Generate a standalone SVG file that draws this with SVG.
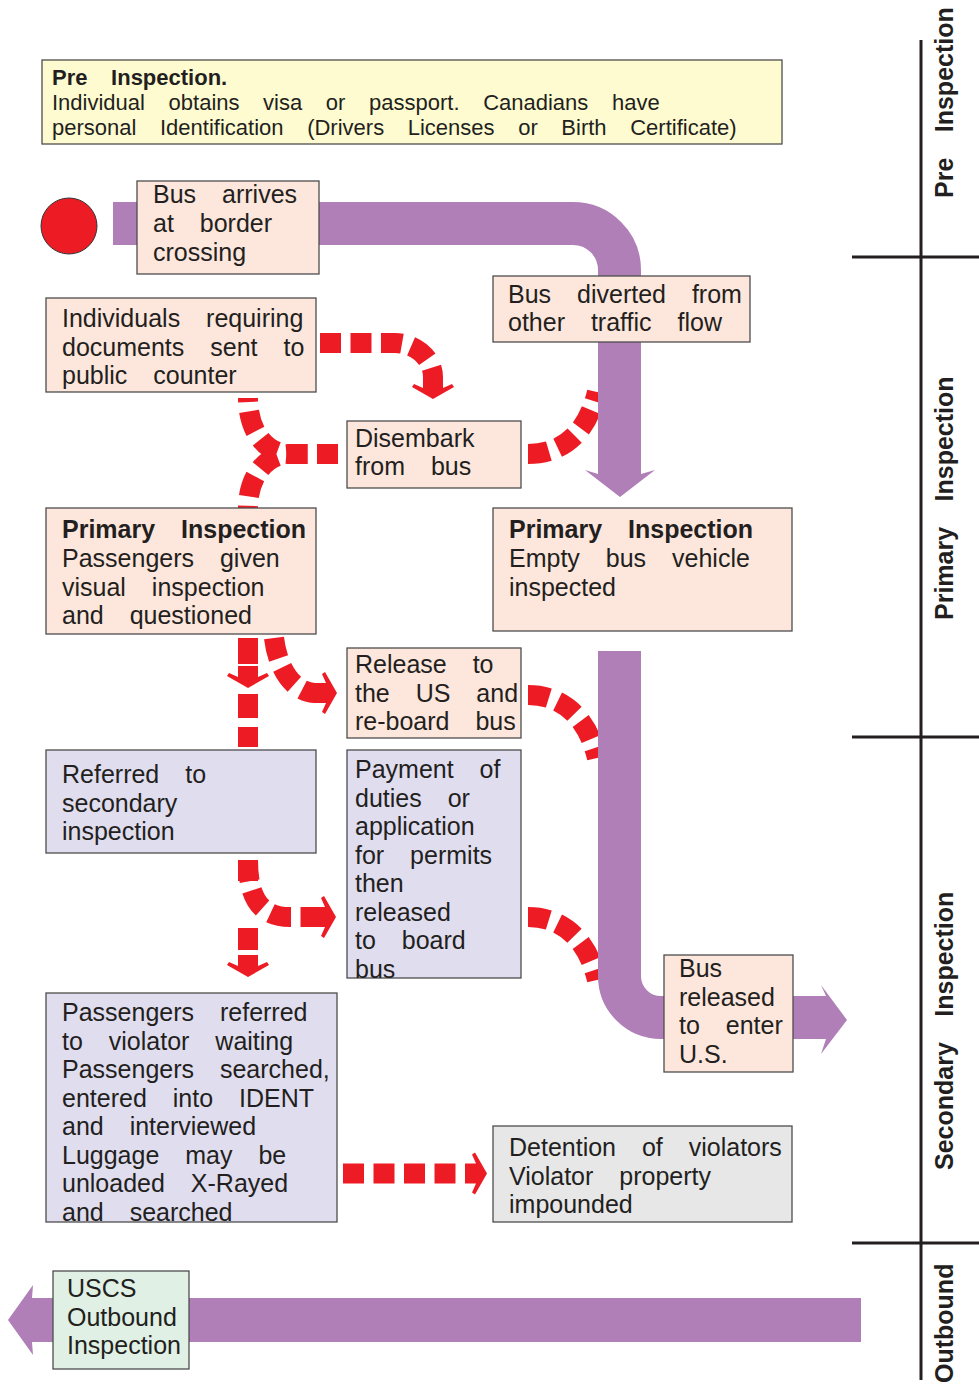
<svg xmlns="http://www.w3.org/2000/svg" xmlns:xlink="http://www.w3.org/1999/xlink" width="979" height="1385" viewBox="0 0 979 1385">
<style>
.box{stroke:#4d4d4d;stroke-width:1.3}
.peach{fill:#fde6dc}
.lav{fill:#e0ddef}
.gray{fill:#e7e7e8}
.green{fill:#e0f0e5}
.yellow{fill:#fefbd0}
.t{font-family:"Liberation Sans",Arial,sans-serif;font-size:25px;fill:#231f20;word-spacing:19px}
.b{font-weight:bold}
.top{font-family:"Liberation Sans",Arial,sans-serif;font-size:22px;fill:#231f20;word-spacing:17.5px}
.side{font-family:"Liberation Sans",Arial,sans-serif;font-size:25px;font-weight:bold;fill:#231f20;word-spacing:18.5px}
.red{fill:none;stroke:#ed1c24;stroke-width:20;stroke-dasharray:21 9.5}
.pur{fill:none;stroke:#b07fb8;stroke-width:43}
.purf{fill:#b07fb8}
</style>
<defs>
<path id="ah" d="M0,0 L-12,-21 L-15,-19 L-11,-10 L-22,-10 L-22,10 L-11,10 L-15,19 L-12,21 Z" fill="#ed1c24"/>
</defs>

<g id="lanes">
<path d="M921,40 V1380 M852,257 H979 M852,737 H979 M852,1243 H979" stroke="#231f20" stroke-width="3" fill="none"/>
<text class="side" transform="translate(953,198) rotate(-90)">Pre Inspection</text>
<text class="side" transform="translate(953,620) rotate(-90)">Primary Inspection</text>
<text class="side" transform="translate(953,1170) rotate(-90)">Secondary Inspection</text>
<text class="side" transform="translate(953,1383) rotate(-90)">Outbound</text>
</g>

<g id="connectors">
<path class="red" d="M320,343 L395,343 C415,343 433,358 433,377"/>
<use xlink:href="#ah" href="#ah" transform="translate(433,399) rotate(90)"/>
<path class="red" d="M338,454 L290,454 C265,454 248,430 248,398"/>
<path class="red" d="M338,454 L290,454 C265,454 248,478 248,508"/>
<path class="red" d="M528,454 C565,454 588,430 597,392"/>
<path class="red" d="M248,638 L248,747" style="stroke-dasharray:26 30 24 9 20 60"/>
<use xlink:href="#ah" href="#ah" transform="translate(248,688) rotate(90)"/>
<path class="red" d="M274,638 C278,672 296,693 315,693"/>
<use xlink:href="#ah" href="#ah" transform="translate(337,693)"/>
<path class="red" d="M528,695 C565,695 588,720 597,758"/>
<path class="red" d="M248,860 L248,955" style="stroke-dasharray:21 47 22 100"/>
<use xlink:href="#ah" href="#ah" transform="translate(248,977) rotate(90)"/>
<path class="red" d="M248,860 C248,900 262,917 290,917 L314,917"/>
<use xlink:href="#ah" href="#ah" transform="translate(336,917)"/>
<path class="red" d="M528,917 C565,917 588,942 597,980"/>
<path class="red" d="M343,1173.5 L465,1173.5"/>
<use xlink:href="#ah" href="#ah" transform="translate(487,1173.5)"/>

<path class="pur" d="M113,223.5 L573,223.5 A46.5,46.5 0 0 1 619.5,270 L619.5,476"/>
<polygon class="purf" points="598,474 585,470 620,497 655,470 641,474"/>
<path class="pur" d="M619.5,651 L619.5,976 A41.5,41.5 0 0 0 661,1017.5 L826,1017.5"/>
<polygon class="purf" points="826,996 821,985 847,1020 821,1054 826,1039"/>
<polygon class="purf" points="861,1298 32,1298 33,1285 8,1320 33,1355 32,1342 861,1342"/>
</g>

<g id="pre-inspection">
<rect class="box yellow" x="42" y="60" width="740" height="84"/>
<text class="top"><tspan class="b" x="52" y="85">Pre Inspection.</tspan><tspan x="52" y="110">Individual obtains visa or passport. Canadians have</tspan><tspan x="52" y="135">personal Identification (Drivers Licenses or Birth Certificate)</tspan></text>
</g>

<g id="start">
<circle cx="69" cy="226" r="28" fill="#ed1c24" stroke="#333" stroke-width="1"/>
</g>

<g id="bus-arrives">
<rect class="box peach" x="137" y="181" width="182" height="93"/>
<text class="t"><tspan x="153" y="203">Bus arrives</tspan><tspan x="153" y="232">at border</tspan><tspan x="153" y="260.5">crossing</tspan></text>
</g>

<g id="bus-diverted">
<rect class="box peach" x="493" y="276" width="257" height="66"/>
<text class="t"><tspan x="508" y="303">Bus diverted from</tspan><tspan x="508" y="331">other traffic flow</tspan></text>
</g>

<g id="individuals">
<rect class="box peach" x="46" y="298" width="270" height="94"/>
<text class="t"><tspan x="62" y="327">Individuals requiring</tspan><tspan x="62" y="356">documents sent to</tspan><tspan x="62" y="384">public counter</tspan></text>
</g>

<g id="disembark">
<rect class="box peach" x="347" y="421" width="174" height="67"/>
<text class="t"><tspan x="355" y="447">Disembark</tspan><tspan x="355" y="475">from bus</tspan></text>
</g>

<g id="primary-passengers">
<rect class="box peach" x="46" y="508" width="270" height="126"/>
<text class="t"><tspan class="b" x="62" y="538">Primary Inspection</tspan><tspan x="62" y="567">Passengers given</tspan><tspan x="62" y="595.5">visual inspection</tspan><tspan x="62" y="624">and questioned</tspan></text>
</g>

<g id="primary-bus">
<rect class="box peach" x="493" y="508" width="299" height="123"/>
<text class="t"><tspan class="b" x="509" y="538">Primary Inspection</tspan><tspan x="509" y="567">Empty bus vehicle</tspan><tspan x="509" y="595.5">inspected</tspan></text>
</g>

<g id="release">
<rect class="box peach" x="347" y="648" width="174" height="90"/>
<text class="t"><tspan x="355" y="673">Release to</tspan><tspan x="355" y="702">the US and</tspan><tspan x="355" y="730">re-board bus</tspan></text>
</g>

<g id="referred">
<rect class="box lav" x="46" y="750" width="270" height="103"/>
<text class="t"><tspan x="62" y="783">Referred to</tspan><tspan x="62" y="811.5">secondary</tspan><tspan x="62" y="840">inspection</tspan></text>
</g>

<g id="payment">
<rect class="box lav" x="347" y="750" width="174" height="228"/>
<text class="t"><tspan x="355" y="778">Payment of</tspan><tspan x="355" y="806.5">duties or</tspan><tspan x="355" y="835">application</tspan><tspan x="355" y="863.5">for permits</tspan><tspan x="355" y="892">then</tspan><tspan x="355" y="920.5">released</tspan><tspan x="355" y="949">to board</tspan><tspan x="355" y="977.5">bus</tspan></text>
</g>

<g id="bus-released">
<rect class="box peach" x="664" y="955" width="129" height="117"/>
<text class="t"><tspan x="679" y="977">Bus</tspan><tspan x="679" y="1005.5">released</tspan><tspan x="679" y="1034">to enter</tspan><tspan x="679" y="1062.5">U.S.</tspan></text>
</g>

<g id="violator">
<rect class="box lav" x="46" y="993" width="291" height="229"/>
<text class="t"><tspan x="62" y="1021">Passengers referred</tspan><tspan x="62" y="1049.5">to violator waiting</tspan><tspan x="62" y="1078">Passengers searched,</tspan><tspan x="62" y="1106.5">entered into IDENT</tspan><tspan x="62" y="1135">and interviewed</tspan><tspan x="62" y="1163.5">Luggage may be</tspan><tspan x="62" y="1192">unloaded X-Rayed</tspan><tspan x="62" y="1220.5">and searched</tspan></text>
</g>

<g id="detention">
<rect class="box gray" x="493" y="1126" width="299" height="96"/>
<text class="t"><tspan x="509" y="1156">Detention of violators</tspan><tspan x="509" y="1184.5">Violator property</tspan><tspan x="509" y="1213">impounded</tspan></text>
</g>

<g id="uscs">
<rect class="box green" x="53" y="1271" width="136" height="98"/>
<text class="t"><tspan x="67" y="1297">USCS</tspan><tspan x="67" y="1325.5">Outbound</tspan><tspan x="67" y="1354">Inspection</tspan></text>
</g>
</svg>
